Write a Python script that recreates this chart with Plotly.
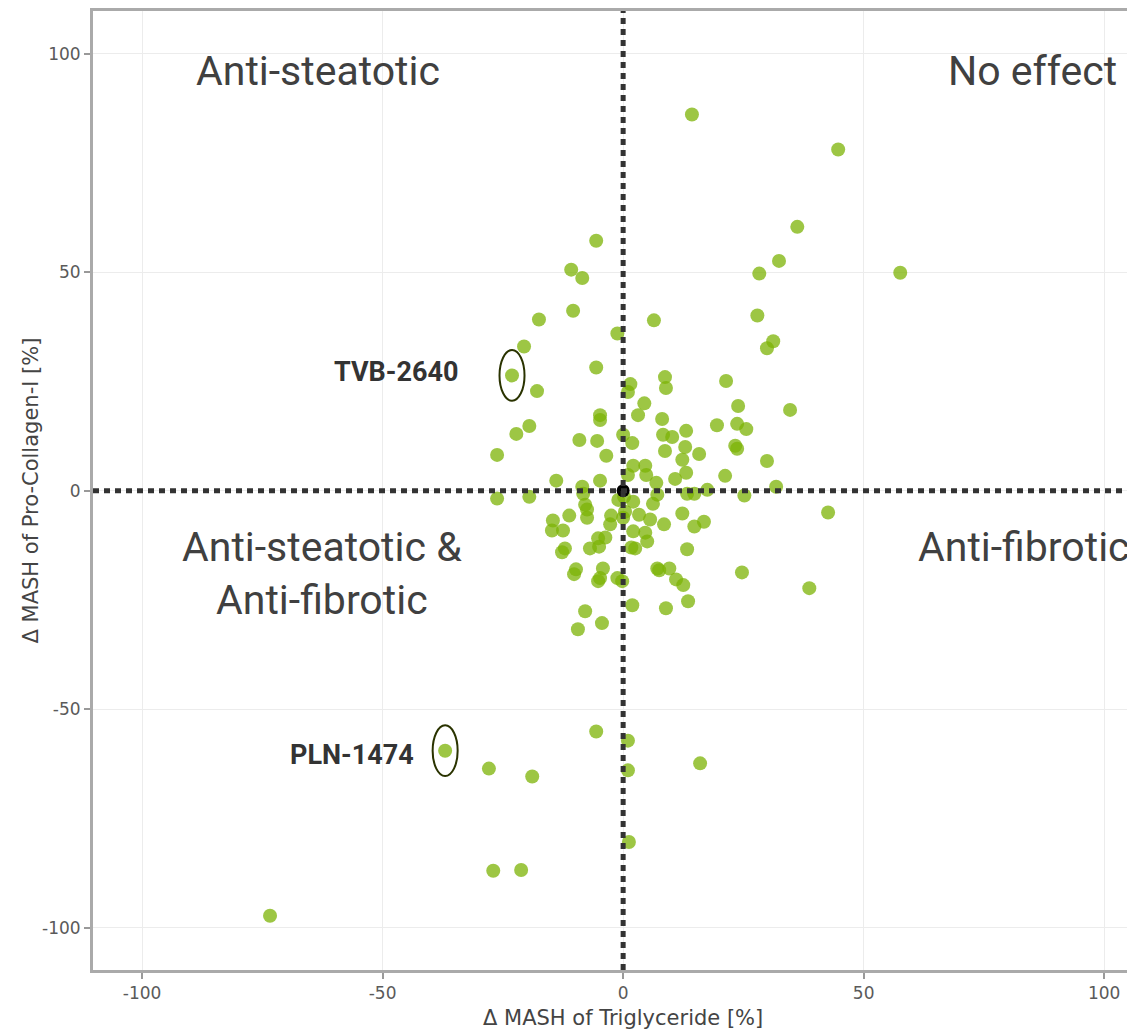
import plotly.graph_objects as go

# Δ MASH of Triglyceride [%]
tg_change = [14.3, 44.7, 36.2, 57.6, 32.4, 28.3, -5.6, -10.8, -8.5, -10.4,
             -17.5, -1.2, 6.4, 27.9, 31.2, 29.9, -20.6, -23.1, -5.6, -17.9,
             1.5, 1.0, 8.7, 8.9, 21.4, 34.7, 4.4, -4.8, -4.8, 3.1,
             8.1, 23.9, 19.5, 23.7, 25.6, -19.5, -22.2, -9.1, -5.4, 0.0,
             1.9, 8.3, 10.2, 13.1, 12.9, 15.8, 8.7, 23.3, 23.7, -3.5,
             -26.2, 12.3, 29.9, 2.1, 4.6, 4.8, 13.1, 10.8, 6.9, 21.2,
             1.0, -4.8, -13.9, 31.8, 17.5, 13.3, 14.8, 25.2, -8.5, -8.3,
             -26.2, -19.5, -1.0, 2.1, -7.9, -7.5, -7.5, 6.2, 7.1, -11.2,
             -14.6, -14.8, -12.5, -2.5, -2.7, 0.0, 3.3, 5.6, 12.3, 8.5,
             14.8, 16.8, 2.1, 4.6, 5.0, 2.5, 1.7, -5.2, -3.7, -5.0,
             -6.9, -12.1, -12.7, 13.3, -9.8, -10.2, -4.2, -4.8, -5.2, -1.2,
             -0.2, 7.1, 7.5, 9.6, 11.0, 12.5, 24.7, 38.7, 13.5, 8.9,
             1.9, -7.9, -4.4, -9.4, 42.6, -5.6, 1.0, 1.0, 16.0, -37.0,
             -27.9, -18.9, 1.2, -27.0, -21.2, -73.4, 0.2, 0.4]

# Δ MASH of Pro-Collagen-I [%]
col_change = [86.1, 78.1, 60.4, 49.9, 52.6, 49.7, 57.2, 50.6, 48.7, 41.2,
              39.2, 36.0, 39.0, 40.1, 34.2, 32.6, 33.0, 26.4, 28.2, 22.8,
              24.4, 22.6, 26.0, 23.5, 25.1, 18.5, 20.0, 17.3, 16.2, 17.3,
              16.4, 19.4, 15.0, 15.3, 14.1, 14.8, 13.0, 11.6, 11.4, 12.8,
              10.9, 12.8, 12.3, 13.7, 10.0, 8.4, 9.1, 10.3, 9.6, 8.0,
              8.2, 7.1, 6.8, 5.7, 5.7, 3.6, 4.1, 2.7, 1.8, 3.4,
              3.6, 2.3, 2.3, 0.9, 0.2, -0.7, -0.7, -1.1, 0.9, -0.7,
              -1.8, -1.4, -2.1, -2.5, -3.2, -4.3, -6.2, -3.0, -0.9, -5.7,
              -6.8, -9.1, -9.1, -5.7, -7.7, -6.2, -5.5, -6.6, -5.2, -7.7,
              -8.2, -7.1, -9.3, -9.6, -11.6, -13.2, -13.0, -10.9, -10.7, -12.8,
              -13.2, -13.2, -14.1, -13.4, -18.0, -19.1, -17.8, -20.0, -20.7, -20.0,
              -20.7, -17.8, -18.2, -17.8, -20.3, -21.6, -18.7, -22.3, -25.3, -26.9,
              -26.2, -27.6, -30.3, -31.7, -5.0, -55.1, -57.2, -64.0, -62.4, -59.5,
              -63.6, -65.4, -80.4, -87.0, -86.8, -97.3, -1.4, -4.8]

ref_x = [0]
ref_y = [0]

highlight_names = ["TVB-2640", "PLN-1474"]
highlight_x = [-23.1, -37.0]
highlight_y = [26.4, -59.5]
highlight_label_x = [-34.0, -43.0]
highlight_label_y = [27.1, -60.6]

quadrant_labels = ["Anti-steatotic", "No effect", "Anti-steatotic &<br>Anti-fibrotic", "Anti-fibrotic"]
quadrant_x = [-63.4, 85.0, -62.6, 105.8]
quadrant_y = [96.1, 96.1, -19.0, -12.8]
quadrant_anchor = ["center", "center", "center", "right"]

x_ticks = [-100, -50, 0, 50, 100]
x_ticktext = ["-100", "-50", "0", "50", "100"]
y_ticks = [-100, -50, 0, 50, 100]
y_ticktext = ["-100", "-50", "0", "50", "100"]

fig = go.Figure()
fig.add_trace(go.Scatter(
    x=tg_change, y=col_change, mode="markers",
    marker=dict(size=14, color="#7cb305", opacity=0.75, line=dict(width=0)),
    showlegend=False, hoverinfo="x+y"))
fig.add_trace(go.Scatter(
    x=ref_x, y=ref_y, mode="markers",
    marker=dict(size=13, color="black", line=dict(width=0)),
    showlegend=False))

dot_line = dict(color="#333333", width=5, dash="6px,5px")
fig.add_shape(type="line", xref="x", yref="paper", x0=0, x1=0, y0=0, y1=1, line=dot_line, layer="above")
fig.add_shape(type="line", xref="paper", yref="y", x0=0, x1=1, y0=0, y1=0, line=dot_line, layer="above")

# ellipses around highlighted compounds
for hx, hy in zip(highlight_x, highlight_y):
    fig.add_shape(type="circle", xref="x", yref="y",
                  x0=hx - 2.6, x1=hx + 2.6, y0=hy - 5.8, y1=hy + 5.8,
                  line=dict(color="#2a3300", width=2), layer="above")

label_font = dict(family="Roboto", size=41, color="#404040")
for t, qx, qy, anc in zip(quadrant_labels, quadrant_x, quadrant_y, quadrant_anchor):
    fig.add_annotation(x=qx, y=qy, text=t, showarrow=False, font=label_font,
                       xanchor=anc, yanchor="middle")

for n, lx, ly in zip(highlight_names, highlight_label_x, highlight_label_y):
    fig.add_annotation(x=lx, y=ly, text="<b>" + n + "</b>", showarrow=False,
                       xanchor="right", yanchor="middle",
                       font=dict(family="Roboto", size=27, color="#333333"))

axis_font = dict(family="DejaVu Sans", size=17, color="#5a5a5a")
title_font = dict(family="DejaVu Sans", size=21, color="#444444")
fig.add_annotation(xref="x", x=0, yref="paper", y=0, yanchor="top", yshift=-34,
                   text="Δ MASH of Triglyceride [%]", showarrow=False, font=title_font)
fig.add_annotation(xref="paper", x=0, xanchor="center", xshift=-63, yref="paper", y=0.5,
                   text="Δ MASH of Pro-Collagen-I [%]", textangle=-90, showarrow=False,
                   font=title_font)

fig.update_xaxes(range=[-110.2, 106.4], tickvals=x_ticks, ticktext=x_ticktext,
                 ticks="outside", ticklen=6,
                 tickcolor="#999999", tickwidth=2, showline=True, linecolor="#aaaaaa", linewidth=3,
                 mirror=True, showgrid=True, gridcolor="#ececec", gridwidth=1, zeroline=False,
                 tickfont=axis_font)
fig.update_yaxes(range=[-109.7, 109.8], tickvals=y_ticks, ticktext=y_ticktext,
                 ticks="outside", ticklen=6,
                 tickcolor="#999999", tickwidth=2, showline=True, linecolor="#aaaaaa", linewidth=3,
                 mirror=False, showgrid=True, gridcolor="#ececec", gridwidth=1, zeroline=False,
                 tickfont=axis_font)

fig.update_layout(width=1127, height=1026, autosize=False,
                  margin=dict(l=85, r=0, t=0, b=64),
                  paper_bgcolor="white", plot_bgcolor="white")

fig.write_html("out.html")
